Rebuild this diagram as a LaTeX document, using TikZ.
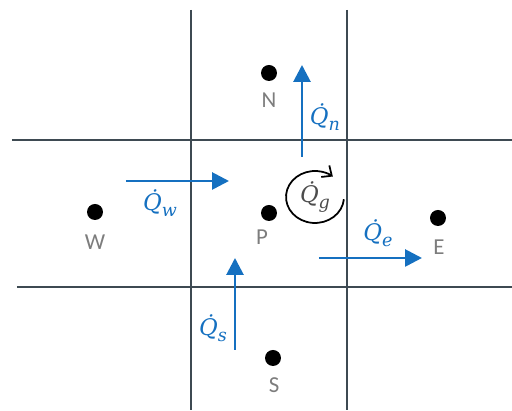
\documentclass[tikz,border=0pt]{standalone}
\usepackage{fontspec}
\setsansfont{Carlito}
\newfontfamily\qfont{DejaVu Serif}
\usepackage{tikz}
\usetikzlibrary{arrows.meta, positioning, calc}
\definecolor{gridgray}{RGB}{62,74,82}
\definecolor{fluxblue}{RGB}{21,112,192}
\definecolor{lblgray}{RGB}{125,125,125}
\newcommand{\qdot}[1]{{\qfont\itshape Q^^^^0307\raisebox{-0.45ex}{\fontsize{10}{12}\selectfont #1}}}
\tikzset{
  gridline/.style={line width=1.6pt, draw=gridgray},
  dot/.style={circle, fill=black, inner sep=0pt, minimum size=0.32cm},
  lbl/.style={text=lblgray, font=\fontsize{13}{15}\selectfont\sffamily},
  flux/.style={line width=1.6pt, draw=fluxblue, -{Triangle[length=0.34cm, width=0.34cm]}},
  fluxlbl/.style={text=fluxblue, font=\fontsize{13}{15}\selectfont},
  spin/.style={line width=1pt, draw=black, -{Straight Barb[length=4.5pt, width=8pt]}}
}
\begin{document}
\begin{tikzpicture}[x=0.02cm, y=0.02cm]
        \useasboundingbox (0,0) rectangle (512,411);
        \draw [gridline] (191,401) -- (191,1);
        \draw [gridline] (347,401) -- (347,1);
        \draw [gridline] (12,271) -- (512,271);
        \draw [gridline] (17,124) -- (512,124);

        \node (N) [dot] at (269,338) {};
        \node (W) [dot] at (95,199) {};
        \node (P) [dot] at (269,198) {};
        \node (E) [dot] at (438,193) {};
        \node (S) [dot] at (273,53) {};
        \node (Nlbl) [lbl] at (269,311) {N};
        \node (Wlbl) [lbl] at (95,169) {W};
        \node (Plbl) [lbl] at (262,174) {P};
        \node (Elbl) [lbl] at (439,164) {E};
        \node (Slbl) [lbl] at (274,26) {S};

        \coordinate (qw0) at (126,230);
        \coordinate (qw1) at (229,230);
        \coordinate (qn0) at (302,254);
        \coordinate (qn1) at (302,346);
        \coordinate (qe0) at (319,153);
        \coordinate (qe1) at (422,153);
        \coordinate (qs0) at (235,61);
        \coordinate (qs1) at (235,153);

        \draw [flux] (qw0) -- (qw1);
        \draw [flux] (qn0) -- (qn1);
        \draw [flux] (qe0) -- (qe1);
        \draw [flux] (qs0) -- (qs1);
        \node (Qw) [fluxlbl] at (160,208) {\qdot{w}};
        \node (Qn) [fluxlbl] at (325,294) {\qdot{n}};
        \node (Qe) [fluxlbl] at (378,178) {\qdot{e}};
        \node (Qs) [fluxlbl] at (213,83) {\qdot{s}};

        \node (Qg) [fluxlbl, text=black!70] at (315,214) {\qdot{g}};
        \draw [spin] ($(Qg.center)+(-5:0.58cm and 0.52cm)$) arc[start angle=-5, end angle=-308, x radius=0.58cm, y radius=0.52cm];
    \end{tikzpicture}
\end{document}
